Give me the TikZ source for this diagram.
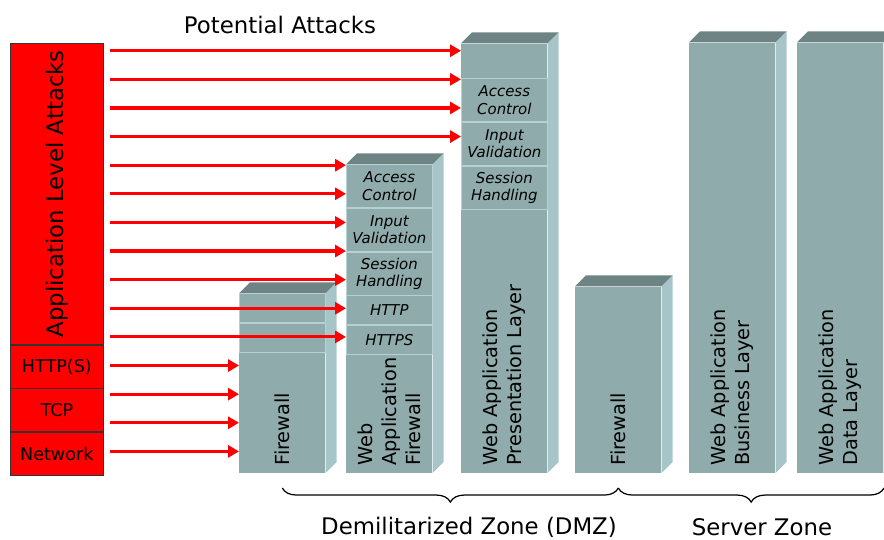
\documentclass[tikz,border=0pt]{standalone}
\usepackage{fontspec}
\setmainfont{DejaVu Sans}
\usepackage{graphicx}
\usepackage{xcolor}
\usepackage{tikz}
\usetikzlibrary{positioning, arrows.meta, decorations.pathreplacing}
\definecolor{AttackRed}{HTML}{FF0000}
\definecolor{FaceFront}{HTML}{8FABAC}
\definecolor{FaceSide}{HTML}{A7C5C8}
\definecolor{FaceTop}{HTML}{6D8384}
\definecolor{LayerEdge}{HTML}{B4D2D4}

\begin{document}
\begin{tikzpicture}[
    x=0.02cm, y=-0.02cm,
    attack/.style={rectangle, draw=black!80, fill=AttackRed, minimum width=1.86cm, inner sep=0, font=\fontsize{10}{12}\selectfont},
    front/.style={rectangle, fill=FaceFront, minimum width=1.72cm, anchor=south west, inner sep=0},
    layer/.style={rectangle, draw=LayerEdge, fill=FaceFront, minimum width=1.72cm, inner sep=0, align=center, font=\fontsize{8.5}{9.8}\selectfont\itshape},
    vlabel/.style={rotate=90, anchor=west, inner sep=0, align=left, font=\fontsize{11}{13.5}\selectfont},
    zone/.style={font=\fontsize{13}{15}\selectfont},
    arrow/.style={-{Triangle[length=6.2pt, width=6.8pt]}, line width=1.8pt, AttackRed},
    brace/.style={decorate, decoration={brace, mirror, amplitude=8pt}, line width=0.7pt}
]
\useasboundingbox (0,0) rectangle (884,539);

% Attack stack
\node[attack, minimum height=6.02cm, anchor=north west] (ala) at (10,43) {\rotatebox{90}{\fontsize{13}{15}\selectfont Application Level Attacks}};
\node[attack, minimum height=0.86cm, below=0pt of ala] (https) {HTTP(S)};
\node[attack, minimum height=0.86cm, below=0pt of https] (tcp) {TCP};
\node[attack, minimum height=0.86cm, below=0pt of tcp] (net) {Network};

% Boxes
\node[front, minimum height=3.58cm] (fw1) at (239,473) {};
\node[front, minimum height=6.16cm] (waf) at (346,473) {};
\node[front, minimum height=8.58cm] (pres) at (461,473) {};
\node[front, minimum height=3.72cm] (fw2) at (575,473) {};
\node[front, minimum height=8.6cm] (bus) at (689,473) {};
\node[front, minimum height=8.6cm] (data) at (797,473) {};

\foreach \b in {fw1,waf,pres,fw2,bus,data} {
  \fill[FaceTop] (\b.north west) -- ++(11,-11) -- ([shift={(11,-11)}]\b.north east) -- (\b.north east) -- cycle;
  \fill[FaceSide] (\b.north east) -- ++(11,-11) -- ([shift={(11,-11)}]\b.south east) -- (\b.south east) -- cycle;
}

% Layers
\node[layer, minimum height=0.58cm, anchor=north] (fwa) at (fw1.north) {};
\node[layer, minimum height=0.58cm, below=0pt of fwa] (fwb) {};

\node[layer, minimum height=0.86cm, anchor=north] (wafac) at (waf.north) {Access\\Control};
\node[layer, minimum height=0.86cm, below=0pt of wafac] (wafiv) {Input\\Validation};
\node[layer, minimum height=0.86cm, below=0pt of wafiv] (wafsh) {Session\\Handling};
\node[layer, minimum height=0.58cm, below=0pt of wafsh] (wafhttp) {HTTP};
\node[layer, minimum height=0.58cm, below=0pt of wafhttp] (wafhttps) {HTTPS};

\node[layer, minimum height=0.86cm, anchor=north] (presac) at ([yshift=-0.7cm]pres.north) {Access\\Control};
\node[layer, minimum height=0.86cm, below=0pt of presac] (presiv) {Input\\Validation};
\node[layer, minimum height=0.86cm, below=0pt of presiv] (pressh) {Session\\Handling};

% Box labels
\node[vlabel] (fw1txt) at ([yshift=4pt]fw1.south) {Firewall};
\node[vlabel] (waftxt) at ([yshift=4pt]waf.south) {Web\\Application\\Firewall};
\node[vlabel] (prestxt) at ([yshift=4pt]pres.south) {Web Application\\Presentation Layer};
\node[vlabel] (fw2txt) at ([yshift=4pt]fw2.south) {Firewall};
\node[vlabel] (bustxt) at ([yshift=4pt]bus.south) {Web Application\\Business Layer};
\node[vlabel] (datatxt) at ([yshift=4pt]data.south) {Web Application\\Data Layer};

% Arrows
\foreach \i in {0,...,14} \coordinate (s\i) at (110, 50.7+28.62*\i);
\foreach \i in {0,...,3} \draw[arrow] (s\i) -- (pres.west |- s\i);
\foreach \i in {4,...,10} \draw[arrow] (s\i) -- (waf.west |- s\i);
\foreach \i in {11,...,14} \draw[arrow] (s\i) -- (fw1.west |- s\i);

% Zones
\coordinate (bl) at ([yshift=-0.3cm]fw1.south);
\coordinate (bm) at ([yshift=-0.3cm]fw2.south);
\coordinate (br) at (884,488);
\draw[brace] (bl) -- (bm);
\draw[brace] (bm) -- (br);

\node[zone] (pot) at (280,25) {Potential Attacks};
\node[zone] (dmz) at (469,527) {Demilitarized Zone (DMZ)};
\node[zone] (srv) at (762,527) {Server Zone};

\end{tikzpicture}
\end{document}
